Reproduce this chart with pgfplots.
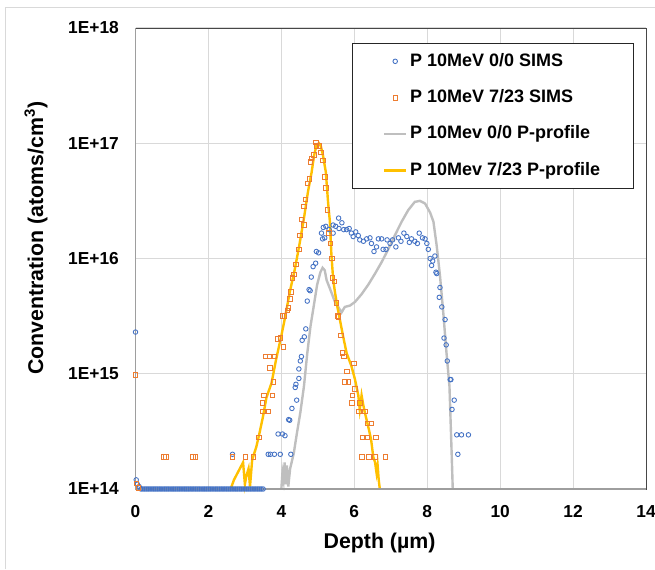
\documentclass[border=0pt]{standalone}
\usepackage{fontspec}
\setmainfont{Liberation Sans}
\usepackage{pgfplots}
\pgfplotsset{compat=1.18}
\definecolor{sblue}{HTML}{4472C4}
\definecolor{sorange}{HTML}{ED7D31}
\definecolor{pgray}{HTML}{BFBFBF}
\definecolor{pyellow}{HTML}{FFC000}
\definecolor{gridc}{HTML}{D9D9D9}
\begin{document}
\begin{tikzpicture}[font=\bfseries]
\draw[gridc, line width=0.75pt] (3.75pt,0) -- (3.75pt,420.75pt) -- (491.25pt,420.75pt);
\begin{axis}[
  at={(101.625pt,60pt)}, anchor=south west,
  scale only axis, width=382.875pt, height=345.75pt,
  xmin=0, xmax=14, ymin=1e14, ymax=1e18, ymode=log,
  xtick={0,2,4,6,8,10,12,14}, xticklabels={0,2,4,6,8,10,12,14},
  ytick={1e14,1e15,1e16,1e17,1e18}, yticklabels={1E+14,1E+15,1E+16,1E+17,1E+18},
  major tick length=0pt, minor tick length=0pt,
  grid=major, major grid style={gridc, line width=0.75pt},
  axis line style={black!72, line width=0.7pt},
  tick label style={font=\fontsize{13}{15}\selectfont\bfseries},
  xticklabel style={yshift=-9pt},
  yticklabel style={xshift=-9pt},
  xlabel={Depth (µm)}, ylabel={Conventration (atoms/cm\textsuperscript{3})},
  label style={font=\fontsize{16}{19}\selectfont\bfseries},
  xlabel style={at={(axis description cs:0.478,-0.117)}, anchor=center},
  ylabel style={at={(axis description cs:-0.195,0.544)}, anchor=center},
  clip=false,
  legend image code/.code={\draw[#1, mark repeat=2, mark phase=2] plot coordinates {(0pt,0pt) (8.25pt,0pt) (16.5pt,0pt)};},
  legend cell align=left,
  legend style={at={(0.9765,0.9675)}, anchor=north east, draw=black!85, line width=0.75pt,
    font=\fontsize{13.5}{16}\selectfont\bfseries, inner xsep=23pt, inner ysep=5pt, row sep=10.5pt,
    nodes={text height=10pt, text depth=2.8pt}},
]
\addplot[only marks, mark=o, mark size=1.7pt, sblue, mark options={line width=0.65pt}] coordinates {
(0,2.3e15) (0.02,1.2e14) (0.05,1.1e14) (0.10,1.05e14)
(0.15,1e14) (0.20,1e14) (0.25,1e14) (0.30,1e14) (0.35,1e14) (0.40,1e14) (0.45,1e14) (0.50,1e14)
(0.55,1e14) (0.60,1e14) (0.65,1e14) (0.70,1e14) (0.75,1e14) (0.80,1e14) (0.85,1e14) (0.90,1e14)
(0.95,1e14) (1.00,1e14) (1.05,1e14) (1.10,1e14) (1.15,1e14) (1.20,1e14) (1.25,1e14) (1.30,1e14)
(1.35,1e14) (1.40,1e14) (1.45,1e14) (1.50,1e14) (1.55,1e14) (1.60,1e14) (1.65,1e14) (1.70,1e14)
(1.75,1e14) (1.80,1e14) (1.85,1e14) (1.90,1e14) (1.95,1e14) (2.00,1e14) (2.05,1e14) (2.10,1e14)
(2.15,1e14) (2.20,1e14) (2.25,1e14) (2.30,1e14) (2.35,1e14) (2.40,1e14) (2.45,1e14) (2.50,1e14)
(2.55,1e14) (2.60,1e14) (2.65,1e14) (2.70,1e14) (2.75,1e14) (2.80,1e14) (2.85,1e14) (2.90,1e14)
(2.95,1e14) (3.00,1e14) (3.05,1e14) (3.10,1e14) (3.15,1e14) (3.20,1e14) (3.25,1e14) (3.30,1e14)
(3.35,1e14) (3.40,1e14) (3.45,1e14) (3.50,1e14)
(2.66,2.0e14) (3.64,2.0e14) (3.70,2.0e14) (3.81,2.0e14) (3.97,2.0e14) (4.26,2.0e14)
(3.91,3.0e14) (4.03,3.0e14) (4.10,2.9e14) (4.20,4.0e14) (4.23,3.95e14) (4.29,5.0e14)
(4.42,5.9e14) (4.38,7.6e14) (4.40,8.1e14) (4.48,9.1e14) (4.48,1.1e15) (4.52,1.29e15)
(4.55,1.41e15) (4.57,1.95e15) (4.63,2.09e15) (4.67,2.45e15) (4.71,4.27e15) (4.76,5.37e15)
(4.79,5.25e15) (4.82,6.9e15) (4.87,8.5e15) (4.94,9.1e15) (4.96,1.15e16) (5.02,1.12e16)
(5.10,1.66e16) (5.15,1.86e16) (5.13,1.48e16) (5.19,1.51e16) (5.22,1.9e16) (5.31,1.78e16)
(5.42,1.95e16) (5.42,1.66e16) (5.49,1.9e16) (5.57,2.24e16) (5.66,2.04e16) (5.58,1.82e16)
(5.71,1.78e16) (5.79,1.78e16) (5.86,1.82e16) (5.92,1.66e16) (5.97,1.55e16) (6.04,1.7e16)
(6.11,1.58e16) (6.15,1.45e16) (6.25,1.41e16) (6.34,1.48e16) (6.43,1.51e16) (6.47,1.35e16)
(6.54,1.15e16) (6.61,1.26e16) (6.66,1.48e16) (6.75,1.48e16) (6.79,1.2e16) (6.87,1.2e16)
(6.90,1.45e16) (6.98,1.35e16) (7.05,1.45e16) (7.14,1.26e16) (7.21,1.51e16) (7.28,1.41e16)
(7.36,1.66e16) (7.44,1.55e16) (7.51,1.38e16) (7.57,1.48e16) (7.66,1.41e16) (7.73,1.35e16)
(7.78,1.66e16) (7.87,1.51e16) (7.94,1.48e16) (7.99,1.35e16) (8.03,1.2e16) (8.08,1.0e16)
(8.15,9.5e15) (8.21,1.05e16) (8.12,8.7e15) (8.24,7.6e15) (8.26,7.4e15) (8.35,5.6e15)
(8.33,4.6e15) (8.40,3.8e15) (8.49,2.95e15) (8.46,2.04e15) (8.52,1.78e15) (8.55,1.29e15)
(8.63,8.9e14) (8.65,8.9e14) (8.74,5.9e14) (8.68,4.9e14) (8.81,2.95e14) (8.94,2.95e14)
(9.13,2.95e14) (8.84,2.0e14)
};
\addlegendentry{P 10MeV 0/0 SIMS}
\addplot[only marks, mark=square, mark size=1.7pt, sorange, mark options={line width=0.65pt}] coordinates {
(0,9.8e14) (0.02,1.12e14) (0.08,1.02e14)
(0.78,1.9e14) (0.84,1.9e14) (1.58,1.9e14) (1.64,1.9e14) (2.66,1.9e14) (3.01,1.9e14) (3.24,1.9e14)
(3.39,2.8e14) (3.50,4.7e14) (3.64,4.7e14) (3.48,5.6e14) (3.52,6.5e14) (3.75,6.5e14)
(3.78,8.5e14) (3.68,1.12e15) (3.56,1.41e15) (3.68,1.41e15) (3.79,1.41e15) (4.06,1.7e15)
(3.91,2.0e15) (3.97,2.04e15) (4.03,3.16e15) (4.09,3.16e15) (4.17,3.55e15) (4.19,3.72e15)
(4.23,4.47e15) (4.26,5.13e15) (4.30,6.76e15) (4.34,7.24e15) (4.40,8.9e15) (4.48,1.2e16)
(4.51,1.58e16) (4.55,2.19e16) (4.62,1.95e16) (4.62,2.82e16) (4.66,3.24e16) (4.71,4.47e16)
(4.77,4.9e16) (4.80,6.9e16) (4.83,7.4e16) (4.90,7.9e16) (4.95,1.02e17) (4.96,9.5e16)
(5.05,9.5e16) (5.09,8.3e16) (5.14,7.1e16) (5.19,5.1e16) (5.22,4.1e16) (5.26,2.63e16)
(5.30,1.66e16) (5.35,1.35e16) (5.38,1.0e16) (5.40,6.8e15) (5.45,6.3e15) (5.51,4.1e15)
(5.55,3.16e15) (5.57,3.1e15) (5.63,2.14e15) (5.68,1.51e15) (5.72,1.41e15) (5.99,1.23e15)
(5.80,1.05e15) (5.74,8.5e14) (5.84,8.5e14) (6.02,7.4e14) (5.95,6.5e14) (5.93,5.6e14)
(6.15,5.6e14) (6.13,4.7e14) (6.29,4.7e14) (6.36,3.7e14) (6.47,3.7e14) (6.24,2.8e14)
(6.34,2.8e14) (6.59,2.8e14) (6.21,1.9e14) (6.40,1.9e14) (6.57,1.9e14) (6.86,1.9e14)
};
\addlegendentry{P 10MeV 7/23 SIMS}
\addplot[pgray, line width=1.8pt] coordinates {
(4.00,1.0e14) (4.03,1.38e14) (4.06,1.2e14) (4.09,1.7e14) (4.12,1.1e14) (4.15,1.6e14)
(4.19,1.05e14) (4.24,1.5e14) (4.34,2.04e14) (4.43,3.1e14) (4.52,4.6e14) (4.62,7.8e14)
(4.71,1.5e15) (4.80,2.6e15) (4.89,3.9e15) (4.98,5.9e15) (5.07,7.6e15) (5.13,8.3e15)
(5.19,7.9e15) (5.24,6.5e15) (5.33,5.5e15) (5.47,4.2e15) (5.56,3.8e15) (5.65,3.4e15)
(5.74,3.8e15) (5.88,3.9e15) (6.02,4.2e15) (6.20,4.9e15) (6.38,5.9e15) (6.57,7.4e15)
(6.75,9.3e15) (6.93,1.2e16) (7.11,1.58e16) (7.30,2.09e16) (7.48,2.63e16) (7.66,3.1e16)
(7.80,3.16e16) (7.94,3.0e16) (8.08,2.5e16) (8.17,2.09e16) (8.26,1.29e16) (8.35,7.1e15)
(8.44,3.4e15) (8.53,1.5e15) (8.61,7.8e14) (8.64,4.0e14) (8.67,2.04e14) (8.70,1.0e14)
};
\addlegendentry{P 10Mev 0/0 P-profile}
\addplot[pyellow, line width=1.8pt] coordinates {
(2.61,1.0e14) (2.70,1.2e14) (2.86,1.5e14) (2.95,1.7e14) (3.00,1.1e14) (3.04,1.3e14)
(3.10,1.5e14) (3.14,1.05e14) (3.20,1.8e14) (3.31,2.3e14) (3.39,2.95e14) (3.50,4.3e14)
(3.59,6.2e14) (3.73,8.3e14) (3.86,1.35e15) (4.00,2.14e15) (4.09,2.95e15) (4.23,5.1e15)
(4.37,8.1e15) (4.49,1.29e16) (4.62,2.24e16) (4.73,3.8e16) (4.83,5.6e16) (4.90,7.9e16)
(4.96,9.5e16) (5.03,1.0e17) (5.08,9.5e16) (5.14,7.9e16) (5.22,5.6e16) (5.28,3.1e16)
(5.33,2.1e16) (5.37,1.12e16) (5.42,6.6e15) (5.47,5.1e15) (5.53,3.9e15) (5.60,3.0e15)
(5.69,2.14e15) (5.79,1.51e15) (5.92,1.17e15) (6.02,8.9e14) (6.11,6.5e14) (6.15,4.9e14)
(6.20,6.5e14) (6.24,5.5e14) (6.29,4.6e14) (6.38,3.5e14) (6.46,2.7e14) (6.52,1.9e14)
(6.57,1.7e14) (6.61,1.38e14) (6.64,1.6e14) (6.67,1.2e14) (6.70,1.0e14)
};
\addlegendentry{P 10Mev 7/23 P-profile}
\draw[black!38, line width=1.4pt] (rel axis cs:0,1) -- (rel axis cs:0,0) -- (rel axis cs:1,0);
\end{axis}
\pgfresetboundingbox
\path[use as bounding box] (0,0) rectangle (491.25pt,426.75pt);
\end{tikzpicture}
\end{document}
